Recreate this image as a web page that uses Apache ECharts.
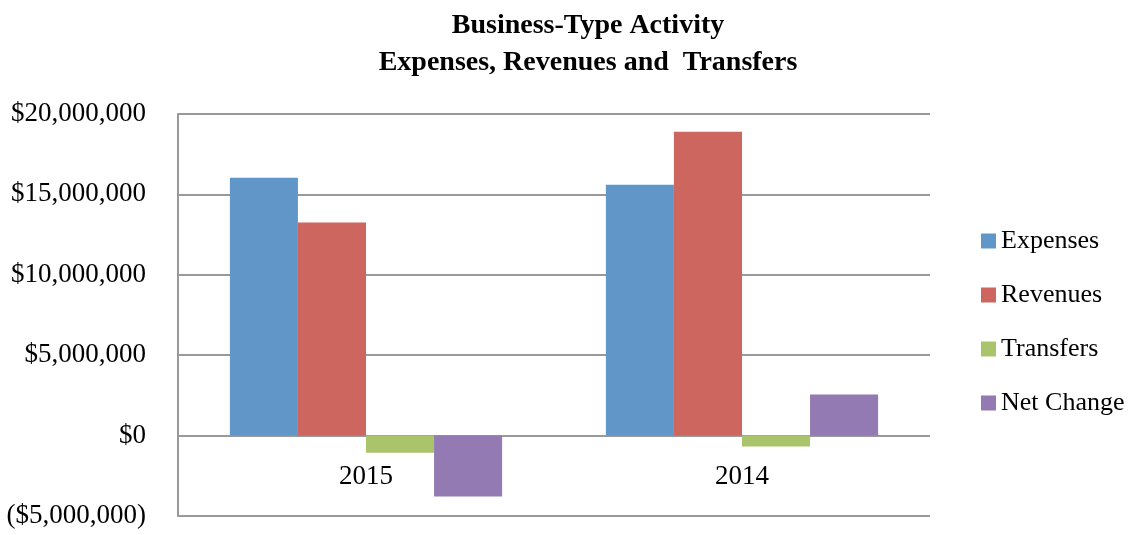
<!DOCTYPE html>
<html><head><meta charset="utf-8">
<script src="https://cdn.jsdelivr.net/npm/echarts@6/dist/echarts.min.js"></script>
<style>html,body{margin:0;padding:0;background:#fff}#c{width:1141px;height:535px}</style>
</head><body><div id="c"></div>
<script>
const categories = ['2015', '2014'];
const seriesNames = ['Expenses', 'Revenues', 'Transfers', 'Net Change'];
const expenses = [16040000, 15600000];
const revenues = [13250000, 18900000];
const transfers = [-1060000, -680000];
const netChange = [-3790000, 2550000];
const colors = ['#6097C8', '#CD665F', '#A9C46A', '#937AB3'];
const FONT = '"Liberation Serif", "DejaVu Serif", serif';

function fmt(v) {
  const s = '$' + Math.abs(v).toLocaleString('en-US');
  return v < 0 ? '(' + s + ')' : s;
}

const chart = echarts.init(document.getElementById('c'), null, {renderer: 'canvas'});
const data = [expenses, revenues, transfers, netChange];
chart.setOption({
  animation: false,
  title: {
    text: 'Business-Type Activity\nExpenses, Revenues and  Transfers',
    left: 583, top: 2, textAlign: 'center',
    textStyle: {fontFamily: FONT, fontSize: 28, fontWeight: 'bold', color: '#000', lineHeight: 37}
  },
  legend: {
    orient: 'vertical', left: 976, top: 223, itemGap: 28,
    itemWidth: 15, itemHeight: 15, icon: 'rect',
    textStyle: {fontFamily: FONT, fontSize: 26, color: '#000'},
    data: seriesNames
  },
  grid: {left: 178, top: 114, right: 211, bottom: 19, containLabel: false, outerBoundsMode: 'none'},
  xAxis: {
    type: 'category', data: categories,
    axisLine: {show: false, onZero: false},
    axisTick: {show: false},
    axisLabel: {inside: true, fontFamily: FONT, fontSize: 27, color: '#000', margin: 26}
  },
  yAxis: {
    type: 'value', min: -5000000, max: 20000000, interval: 5000000,
    axisLine: {show: true, lineStyle: {color: '#999', width: 2}},
    axisTick: {show: false},
    splitLine: {lineStyle: {color: '#999', width: 2}},
    axisLabel: {fontFamily: FONT, fontSize: 27, color: '#000', margin: 32, formatter: fmt}
  },
  series: seriesNames.map((n, i) => ({
    name: n, type: 'bar', data: data[i],
    itemStyle: {color: colors[i]},
    barGap: '0%', barCategoryGap: '27.6%'
  }))
});
</script></body></html>
